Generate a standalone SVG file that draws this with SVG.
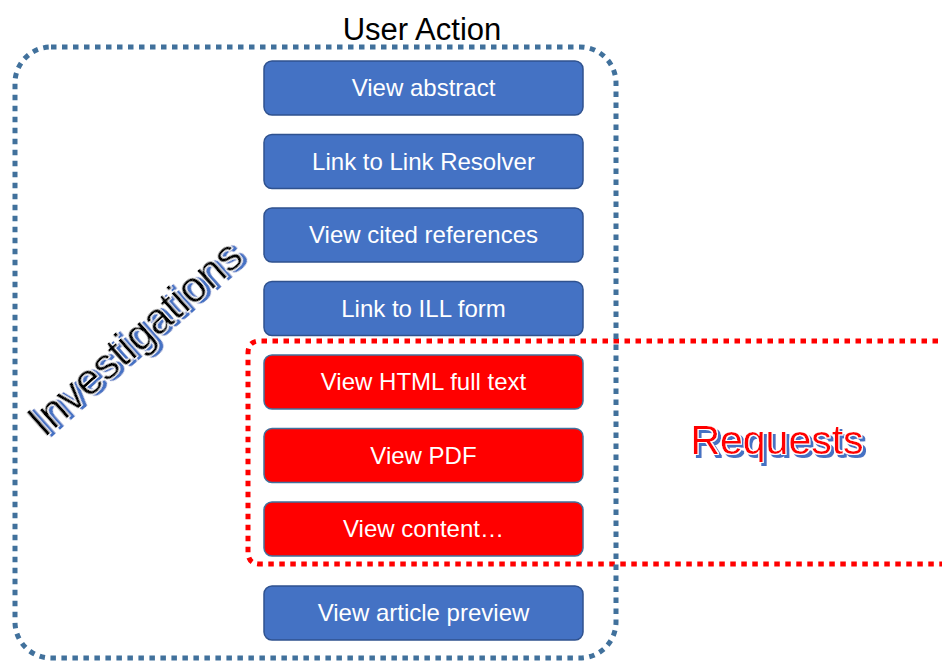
<svg xmlns="http://www.w3.org/2000/svg" width="942" height="662" viewBox="0 0 942 662">
<style>
.box{stroke-width:1.5}
.blue{fill:#4472C4;stroke:#2F528F}
.red{fill:#FF0000;stroke:#41719C}
.lbl{font-family:"Liberation Sans",Arial,sans-serif;font-size:24px;fill:#FFFFFF;text-anchor:middle}
.frame{fill:none;stroke-width:5;stroke-dasharray:5.5 5.5}
.big{font-family:"Liberation Sans",Arial,sans-serif;text-anchor:middle;filter:url(#shadow)}
</style>
<defs>
<filter id="shadow" x="-10%" y="-30%" width="120%" height="160%">
<feMorphology in="SourceAlpha" operator="dilate" radius="1" result="d"/>
<feMorphology in="SourceAlpha" operator="dilate" radius="2" result="d2"/>
<feOffset in="d2" dx="2.5" dy="2.5" result="od2"/>
<feOffset in="d" dx="2.5" dy="2.5" result="od"/>
<feFlood flood-color="#FFFFFF" result="w"/>
<feComposite in="w" in2="od2" operator="in" result="wOut2"/>
<feFlood flood-color="#4472C4" result="b"/>
<feComposite in="b" in2="od" operator="in" result="sh"/>
<feComposite in="w" in2="d" operator="in" result="wOut"/>
<feMerge><feMergeNode in="wOut2"/><feMergeNode in="sh"/><feMergeNode in="wOut"/><feMergeNode in="SourceGraphic"/></feMerge>
</filter>
</defs>
<rect width="942" height="662" fill="#FFFFFF"/>
<g id="connectors">
<path id="requests-frame" class="frame" stroke="#FF0000" d="M960,341 H260 Q248,341 248,353 V552 Q248,564 260,564 H960"/>
<rect id="investigations-frame" class="frame" stroke="#41719C" x="15" y="47" width="601" height="611" rx="36" ry="36"/>
</g>
<text id="title" x="422" y="40" font-family="Liberation Sans,Arial,sans-serif" font-size="31" text-anchor="middle" fill="#000000">User Action</text>
<g id="n1"><rect class="box blue" x="264" y="61" width="319" height="54" rx="8"/><text class="lbl" x="423.5" y="96">View abstract</text></g>
<g id="n2"><rect class="box blue" x="264" y="134.5" width="319" height="54" rx="8"/><text class="lbl" x="423.5" y="169.5">Link to Link Resolver</text></g>
<g id="n3"><rect class="box blue" x="264" y="208" width="319" height="54" rx="8"/><text class="lbl" x="423.5" y="243">View cited references</text></g>
<g id="n4"><rect class="box blue" x="264" y="281.5" width="319" height="54" rx="8"/><text class="lbl" x="423.5" y="316.5">Link to ILL form</text></g>
<g id="n5"><rect class="box red" x="264" y="355" width="319" height="54" rx="8"/><text class="lbl" x="423.5" y="390">View HTML full text</text></g>
<g id="n6"><rect class="box red" x="264" y="428.5" width="319" height="54" rx="8"/><text class="lbl" x="423.5" y="463.5">View PDF</text></g>
<g id="n7"><rect class="box red" x="264" y="502" width="319" height="54" rx="8"/><text class="lbl" x="423.5" y="537">View content…</text></g>
<g id="n8"><rect class="box blue" x="264" y="586" width="319" height="54" rx="8"/><text class="lbl" x="423.5" y="621">View article preview</text></g>
<g id="investigations" transform="translate(135,338) rotate(-41.5)">
<text class="big" x="0" y="15" font-size="44" fill="#000000">Investigations</text>
</g>
<g id="requests">
<text class="big" x="777" y="454" font-size="41" fill="#FF0000">Requests</text>
</g>
</svg>
